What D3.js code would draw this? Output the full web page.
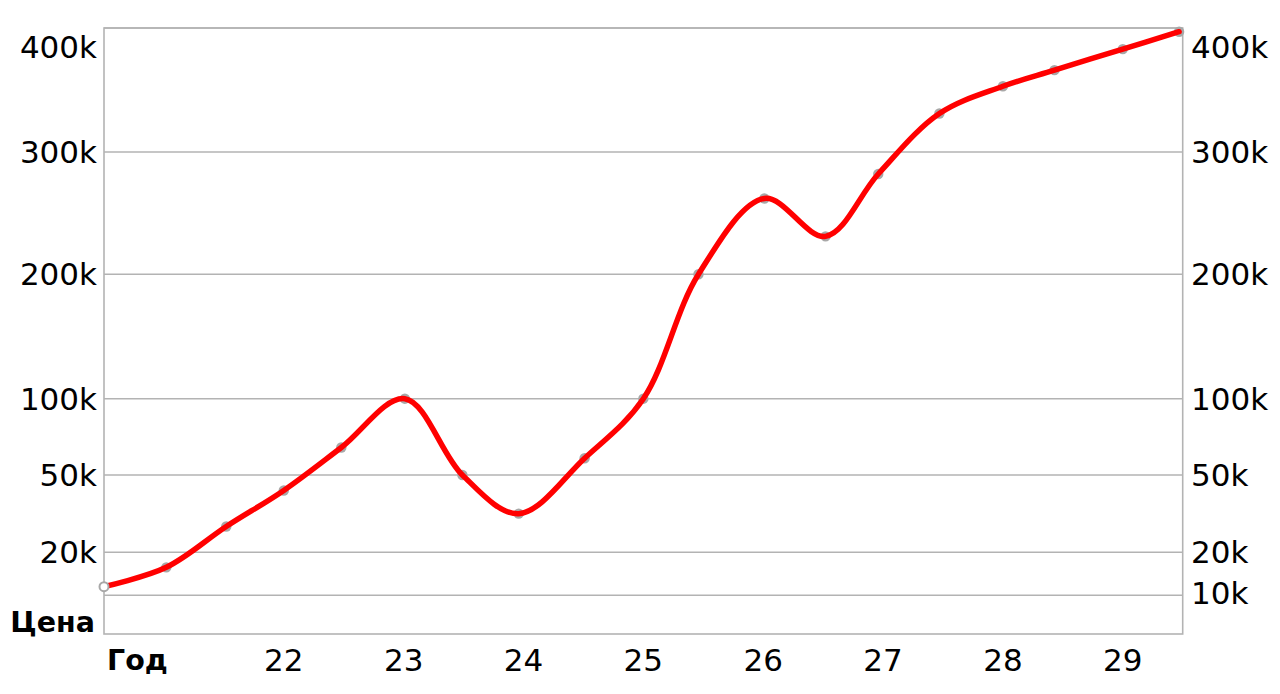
<!DOCTYPE html>
<html>
<head>
<meta charset="utf-8">
<script src="https://cdn.jsdelivr.net/npm/d3@7"></script>
<style>
  html, body { margin: 0; padding: 0; background: #fff; }
  svg { display: block; }
  text { font-family: "DejaVu Sans", sans-serif; fill: #000; }
</style>
</head>
<body>
<svg id="chart" width="1280" height="694"></svg>
<script>
// ---- data ----
const years = [20.5, 21.02, 21.52, 22.0, 22.48, 23.01, 23.49, 23.96, 24.51, 25.0,
               25.46, 26.01, 26.52, 26.96, 27.47, 28.0, 28.43, 29.0, 29.47];
const prices = [12000, 16500, 30000, 44000, 68000, 100000, 50000, 35000, 61000, 100000,
                200000, 262000, 231000, 282000, 331000, 353000, 366000, 383000, 397000];
const xTicks = [22, 23, 24, 25, 26, 27, 28, 29];
const yTicks = [10000, 20000, 50000, 100000, 200000, 300000, 400000];
const yLeftTicks = [20000, 50000, 100000, 200000, 300000, 400000];
const yRightTicks = [10000, 20000, 50000, 100000, 200000, 300000, 400000];
const xTitle = "Год";
const yTitle = "Цена";

// ---- layout ----
const svg = d3.select("#chart");
const pL = 104, pR = 1182.7, pT = 28, pB = 634;
const H = pB - pT;

const x = d3.scaleLinear().domain([20.5, 29.5]).range([pL, pR]);
// piecewise (non-uniform) value axis as in the reference
const y = d3.scaleLinear()
  .domain([0, 10000, 20000, 50000, 100000, 200000, 300000, 400000])
  .range([0, 0.0639, 0.1348, 0.2624, 0.3883, 0.5936, 0.7954, 1].map(f => pB - f * H));

const fmt = v => (v / 1000) + "k";
const gridColor = "#b3b3b3";

// gridlines
svg.append("g").selectAll("line").data(yTicks).join("line")
  .attr("x1", pL).attr("x2", pR)
  .attr("y1", d => y(d)).attr("y2", d => y(d))
  .attr("stroke", gridColor).attr("stroke-width", 1.6);

// frame
svg.append("rect")
  .attr("x", pL).attr("y", pT).attr("width", pR - pL).attr("height", H)
  .attr("fill", "none").attr("stroke", gridColor).attr("stroke-width", 1.6);

// left axis labels
const labelY = d => Math.max(y(d), pT + 19);
svg.append("g").selectAll("text").data(yLeftTicks).join("text")
  .attr("x", 97).attr("y", labelY)
  .attr("dy", "0.36em").attr("text-anchor", "end")
  .attr("font-size", 31).text(fmt);

// right axis labels
svg.append("g").selectAll("text").data(yRightTicks).join("text")
  .attr("x", 1191).attr("y", d => d === 10000 ? y(d) - 2 : labelY(d))
  .attr("dy", "0.36em").attr("text-anchor", "start")
  .attr("font-size", 31).text(fmt);

// x axis labels
svg.append("g").selectAll("text").data(xTicks).join("text")
  .attr("x", d => x(d)).attr("y", 660)
  .attr("dy", "0.36em").attr("text-anchor", "middle")
  .attr("font-size", 31).text(d => d);

// titles
svg.append("text").attr("x", 95).attr("y", 622).attr("dy", "0.36em")
  .attr("text-anchor", "end").attr("font-size", 28.5).attr("font-weight", "bold").text(yTitle);
svg.append("text").attr("x", 107).attr("y", 660).attr("dy", "0.36em")
  .attr("text-anchor", "start").attr("font-size", 28.5).attr("font-weight", "bold").text(xTitle);

const pts = years.map((yr, i) => [yr, prices[i]]);

// markers beneath line
svg.append("g").selectAll("circle").data(pts.slice(1)).join("circle")
  .attr("cx", d => x(d[0])).attr("cy", d => y(d[1])).attr("r", 5.2)
  .attr("fill", "#a8a8a8");

// line
const line = d3.line().x(d => x(d[0])).y(d => y(d[1])).curve(d3.curveCatmullRom.alpha(0.5));
svg.append("path").datum(pts)
  .attr("d", line).attr("fill", "none")
  .attr("stroke", "#ff0000").attr("stroke-width", 5.5)
  .attr("stroke-linecap", "round").attr("stroke-linejoin", "round");

// first marker hollow, on top
svg.append("circle")
  .attr("cx", x(pts[0][0])).attr("cy", y(pts[0][1])).attr("r", 4.5)
  .attr("fill", "#fff").attr("stroke", "#a8a8a8").attr("stroke-width", 2);
</script>
</body>
</html>
